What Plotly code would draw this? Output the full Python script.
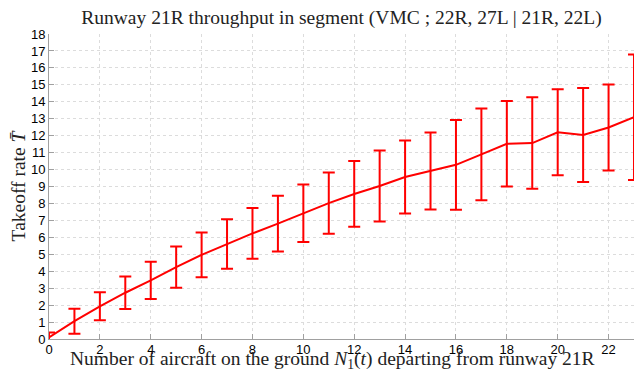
import plotly.graph_objects as go

n_aircraft = list(range(0, 24))
mean_rate = [0.10, 1.05, 1.93, 2.73, 3.46, 4.24, 4.97, 5.61, 6.23, 6.81, 7.42, 8.02,
             8.56, 9.03, 9.56, 9.92, 10.28, 10.90, 11.52, 11.56, 12.20, 12.04, 12.48, 13.09]
std_rate = [0.29, 0.74, 0.83, 0.96, 1.10, 1.22, 1.32, 1.46, 1.50, 1.64, 1.70, 1.81,
            1.94, 2.09, 2.15, 2.27, 2.65, 2.71, 2.52, 2.70, 2.54, 2.77, 2.54, 3.70]
x_ticks = list(range(0, 24, 2))
y_ticks = list(range(0, 19))

title_text = "Runway 21R throughput in segment (VMC ; 22R, 27L | 21R, 22L)"
x_title = "Number of aircraft on the ground <i>N</i><sub>1</sub>(<i>t</i>) departing from runway 21R"
y_title = "Takeoff rate <i>T\u0304</i>"

W, H = 639, 372
ML, MR, MT, MB = 49, 5, 34, 33
PW, PH = W - ML - MR, H - MT - MB
serif = "Liberation Serif"
sans = "Liberation Sans"
txt_color = "#222222"

fig = go.Figure()
fig.add_trace(go.Scatter(
    x=n_aircraft, y=mean_rate, mode="lines",
    line=dict(color="#ff0000", width=2),
    error_y=dict(type="data", array=std_rate, visible=True,
                 color="#ff0000", thickness=2, width=6),
    showlegend=False,
))

axis_common = dict(
    showline=True, linecolor="#a0a0a0", linewidth=1,
    ticks="inside", ticklen=5, tickcolor="#a0a0a0",
    showgrid=True, gridcolor="#dcdcdc", griddash="dot", gridwidth=1,
    zeroline=False, mirror=False,
    tickfont=dict(family=sans, size=13, color="#000000"),
)

fig.update_layout(
    width=W, height=H,
    margin=dict(l=ML, r=MR, t=MT, b=MB, pad=0),
    paper_bgcolor="#ffffff", plot_bgcolor="#ffffff",
    title=dict(text=title_text, x=0.5, xref="paper", y=1 - 17 / H, yref="container",
               xanchor="center", yanchor="middle",
               font=dict(family=serif, size=19.5, color=txt_color)),
    xaxis=dict(range=[0, 23], tickvals=x_ticks, ticklabelstandoff=-2, **axis_common),
    yaxis=dict(range=[0, 18], tickvals=y_ticks,
               title=dict(text=y_title, standoff=0,
                          font=dict(family=serif, size=19.5, color=txt_color)),
               **axis_common),
)

fig.add_annotation(
    text=x_title, xref="paper", yref="paper",
    x=(332 - ML) / PW, y=-(360 - (MT + PH)) / PH,
    xanchor="center", yanchor="middle", showarrow=False,
    font=dict(family=serif, size=19.5, color=txt_color),
)

fig.write_html("out.html")
